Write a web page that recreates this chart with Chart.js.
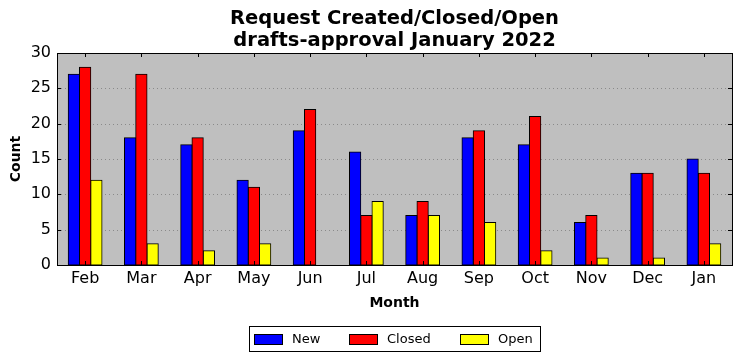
<!DOCTYPE html>
<html><head><meta charset="utf-8">
<script src="https://cdn.jsdelivr.net/npm/chart.js@4"></script>
<style>html,body{margin:0;padding:0;background:#fff}#c{display:block}</style>
</head><body>
<canvas id="c" width="742" height="361"></canvas>
<script>
const months = ['Feb','Mar','Apr','May','Jun','Jul','Aug','Sep','Oct','Nov','Dec','Jan'];
const newVals = [27,18,17,12,19,16,7,18,17,6,13,15];
const closedVals = [28,27,18,11,22,7,9,19,21,7,13,13];
const openVals = [12,3,2,3,0,9,7,6,2,1,1,3];
const yTicks = [0,5,10,15,20,25,30];
const titleLines = ['Request Created/Closed/Open','drafts-approval January 2022'];

const FONT = '"DejaVu Sans", sans-serif';

const deco = {
  id:'deco',
  beforeDatasetsDraw(chart){
    const {ctx, chartArea:a} = chart;
    ctx.save();
    ctx.fillStyle = '#bfbfbf';
    ctx.fillRect(a.left, a.top, a.right-a.left, a.bottom-a.top);
    const y = chart.scales.y;
    ctx.strokeStyle = '#8a8a8a';
    ctx.lineWidth = 1;
    ctx.setLineDash([1,3]);
    for (const v of yTicks){
      if (v===0||v===30) continue;
      const py = Math.round(y.getPixelForValue(v))+0.5;
      ctx.beginPath(); ctx.moveTo(a.left,py); ctx.lineTo(a.right,py); ctx.stroke();
    }
    ctx.restore();
  },
  afterDatasetsDraw(chart){
    const {ctx, chartArea:a} = chart;
    const x = chart.scales.x, y = chart.scales.y;
    ctx.save();
    ctx.strokeStyle = '#000'; ctx.lineWidth = 1;
    ctx.strokeRect(Math.round(a.left)+0.5, Math.round(a.top)+0.5, Math.round(a.right-a.left), Math.round(a.bottom-a.top));
    ctx.beginPath();
    for (let i=0;i<months.length;i++){
      const px = Math.round(x.getPixelForValue(i))+0.5;
      ctx.moveTo(px,a.bottom); ctx.lineTo(px,a.bottom-4);
      ctx.moveTo(px,a.top); ctx.lineTo(px,a.top+4);
    }
    for (const v of yTicks){
      const py = Math.round(y.getPixelForValue(v))+0.5;
      ctx.moveTo(a.left,py); ctx.lineTo(a.left+4,py);
      ctx.moveTo(a.right,py); ctx.lineTo(a.right-4,py);
    }
    ctx.stroke();
    ctx.fillStyle = '#000';
    ctx.font = 'bold 19.5px '+FONT;
    ctx.textAlign = 'center'; ctx.textBaseline = 'middle';
    const cx = (a.left+a.right)/2;
    ctx.fillText(titleLines[0], cx, 19);
    ctx.fillText(titleLines[1], cx, 41);
    const lx = 249, ly = 326, lw = 291, lh = 25;
    ctx.strokeRect(lx+0.5, ly+0.5, lw, lh);
    const items = chart.data.datasets;
    const pos = [254, 349, 460];
    ctx.font = '13px '+FONT;
    ctx.textAlign = 'left';
    items.forEach((d,i)=>{
      const sx = pos[i];
      ctx.fillStyle = d.backgroundColor;
      ctx.fillRect(sx, ly+8, 28, 10);
      ctx.strokeRect(sx+0.5, ly+8.5, 28, 10);
      ctx.fillStyle = '#000';
      ctx.fillText(d.label, sx+38, ly+13.5);
    });
    ctx.restore();
  }
};

const ds = (label, data, color) => ({label, data, backgroundColor: color, borderColor:'#000', borderWidth:1, borderSkipped:false, inflateAmount:0.5, categoryPercentage:0.6, barPercentage:1.0});

new Chart(document.getElementById('c'), {
  type:'bar',
  data:{ labels: months, datasets:[ds('New',newVals,'#0000ff'), ds('Closed',closedVals,'#ff0000'), ds('Open',openVals,'#ffff00')]},
  options:{
    responsive:false, animation:false,
    layout:{padding:{left:0,right:10,top:53,bottom:46}},
    plugins:{legend:{display:false}, title:{display:false}, tooltip:{enabled:false}},
    scales:{
      x:{
        grid:{display:false, drawTicks:false}, border:{display:false},
        ticks:{color:'#000', font:{family:FONT,size:16}, padding:4},
        title:{display:true, text:'Month', color:'#000', font:{family:FONT,size:14,weight:'bold'}, padding:{top:0,bottom:3}},
        afterFit(s){ s.height = 50; }
      },
      y:{
        min:0, max:30,
        afterBuildTicks(s){ s.ticks = yTicks.map(v=>({value:v})); },
        grid:{display:false, drawTicks:false}, border:{display:false},
        ticks:{color:'#000', font:{family:FONT,size:16}, padding:6},
        title:{display:true, text:'Count', color:'#000', font:{family:FONT,size:14,weight:'bold'}, padding:{top:8,bottom:0}},
        afterFit(s){ s.width = 57; }
      }
    }
  },
  plugins:[deco]
});
</script>
</body></html>
